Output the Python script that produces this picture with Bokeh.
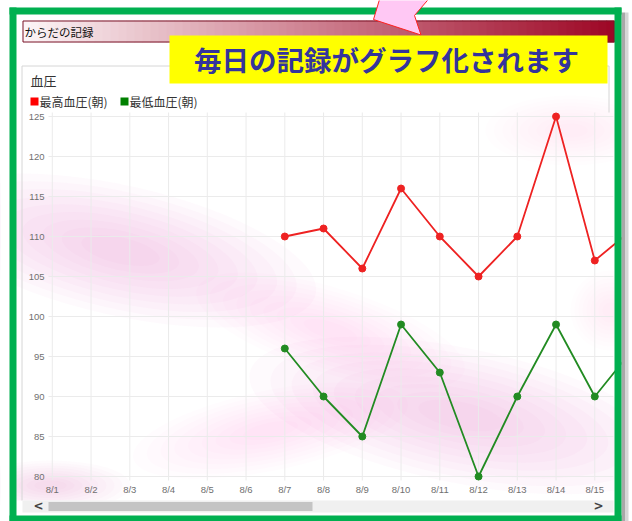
from bokeh.plotting import figure
from bokeh.models import Range1d, FixedTicker, LinearAxis
from bokeh.core.properties import value
from bokeh.embed import file_html
from bokeh.resources import INLINE

# ---------------- data ----------------
dates = ["8/1", "8/2", "8/3", "8/4", "8/5", "8/6", "8/7", "8/8",
         "8/9", "8/10", "8/11", "8/12", "8/13", "8/14", "8/15", "8/16"]
measured_dates = ["8/7", "8/8", "8/9", "8/10", "8/11", "8/12", "8/13", "8/14", "8/15", "8/16"]
high_bp = [110, 111, 106, 116, 110, 105, 110, 125, 107, 111]
low_bp = [96, 90, 85, 99, 93, 80, 90, 99, 90, 96]
y_ticks = [80, 85, 90, 95, 100, 105, 110, 115, 120, 125]
series_names = ["最高血圧(朝)", "最低血圧(朝)"]
chart_title = "血圧"
header_text = "からだの記録"
banner_text = "毎日の記録がグラフ化されます"

RED = "#ee2222"
GREEN = "#228b22"
JP = "Noto Sans CJK JP"

W, H = 632, 521
# page layer uses pixel coordinates (y downward); chart uses extra ranges
p = figure(width=W, height=H, output_backend="svg", toolbar_location=None,
           x_range=Range1d(0, W), y_range=Range1d(H, 0),
           x_axis_location=None, y_axis_location=None, min_border=0)
p.min_border_left = p.min_border_right = p.min_border_top = p.min_border_bottom = 0
p.outline_line_color = None
p.background_fill_color = "white"
p.border_fill_color = "white"
p.grid.visible = False

# chart scales: day index / mmHg
p.extra_x_ranges = {"days": Range1d(-1.3368, 14.973)}
p.extra_y_ranges = {"bp": Range1d(74.375, 139.5)}
X0, X1 = -0.098, 14.48      # chart area extent (day index)
Y0, Y1 = 79.5, 125.5        # chart area extent (mmHg)

# ---- soft pink background blobs (decoration, page pixels)
blobs = [  # X, Y, w, h, angle, strength
    (120, 250, 400, 130, -0.22, 1.0),
    (330, 330, 280, 85, -0.3, 0.6),
    (460, 415, 430, 135, -0.2, 1.0),
    (270, 430, 280, 80, 0.2, 0.55),
    (50, 485, 160, 50, 0.0, 0.8),
    (570, 130, 170, 70, 0.0, 0.4),
    (610, 310, 80, 80, 0.0, 0.4),
]
layers = [1.0, 0.9, 0.8, 0.7, 0.6, 0.5, 0.4, 0.3, 0.2]
for bx, by, bw, bh, ang, s in blobs:
    for k in layers:
        p.ellipse(x=bx, y=by, width=bw * k, height=bh * k, angle=ang,
                  width_units="screen", height_units="screen",
                  fill_color="#ee88cc", fill_alpha=0.04 * s, line_color=None)

# ---- grid lines (from tick lists)
xt = list(range(len(dates)))
p.segment(x0=xt, y0=[Y0] * len(xt), x1=xt, y1=[Y1] * len(xt),
          x_range_name="days", y_range_name="bp", line_color="#ebebeb", line_width=1)
p.segment(x0=[X0] * len(y_ticks), y0=y_ticks, x1=[X1] * len(y_ticks), y1=y_ticks,
          x_range_name="days", y_range_name="bp", line_color="#ebebeb", line_width=1)

# ---- axes placed at the chart edges
yaxis = LinearAxis(y_range_name="bp", fixed_location=48, ticker=FixedTicker(ticks=y_ticks),
                   bounds=(80, 125))
xaxis = LinearAxis(x_range_name="days", fixed_location=478, ticker=FixedTicker(ticks=xt),
                   bounds=(0, len(dates) - 1))
xaxis.major_label_overrides = {i: d for i, d in zip(xt, dates)}
for ax in (xaxis, yaxis):
    ax.axis_line_color = None
    ax.major_tick_line_color = None
    ax.minor_tick_line_color = None
    ax.major_tick_out = 0
    ax.major_tick_in = 0
    ax.minor_tick_out = 0
    ax.minor_tick_in = 0
    ax.major_label_text_font = "Liberation Sans"
    ax.major_label_text_font_size = "9.5px"
    ax.major_label_text_color = "#707070"
xaxis.major_label_standoff = 5
yaxis.major_label_standoff = 4
p.add_layout(yaxis, "left")
p.add_layout(xaxis, "below")

# ---- data series
mx = [dates.index(d) for d in measured_dates]
p.line(mx, high_bp, line_color=RED, line_width=1.8, x_range_name="days", y_range_name="bp")
p.scatter(mx, high_bp, size=7, fill_color=RED, line_color=RED, x_range_name="days", y_range_name="bp")
p.line(mx, low_bp, line_color=GREEN, line_width=1.8, x_range_name="days", y_range_name="bp")
p.scatter(mx, low_bp, size=7, fill_color=GREEN, line_color=GREEN, x_range_name="days", y_range_name="bp")


# ---------------- page decoration ----------------
def rect(l, t, r, b, fill=None, line=None, lw=1):
    p.quad(left=[l], right=[r], top=[t], bottom=[b], fill_color=fill,
           fill_alpha=1.0 if fill else 0.0, line_color=line, line_width=lw)


def label(X, Y, s, size, color, align="left", bold=False, font=JP):
    p.text(x=[X], y=[Y], text=[s], text_font=value(font), text_font_size=f"{size}px",
           text_color=color, text_align=align, text_baseline="middle",
           text_font_style="bold" if bold else "normal")


# white outside the frame
rect(0, 0, 9, H, fill="white")
rect(621, 0, W, H, fill="white")
rect(0, 0, W, 7, fill="white")
rect(16, 14, 614, 64, fill="white")
rect(16, 500, 614, 515, fill="white")

# panel border
p.segment(x0=[21.5, 21.5, 608.5], y0=[65.5, 65.5, 65.5], x1=[21.5, 608.5, 608.5],
          y1=[500, 65.5, 112], line_color="#d6d6d6", line_width=1)

# header bar with gradient
hl, hr, ht, hb = 22, 614, 20, 42
n = 74
c0 = (252, 244, 246)
c1 = (158, 8, 38)
ls, rs, cols = [], [], []
for i in range(n):
    t = i / (n - 1)
    c = tuple(int(round(c0[j] + (c1[j] - c0[j]) * t)) for j in range(3))
    ls.append(hl + (hr - hl) * i / n)
    rs.append(hl + (hr - hl) * (i + 1) / n + 0.6)
    cols.append("#%02x%02x%02x" % c)
p.quad(left=ls, right=rs, top=[ht] * n, bottom=[hb] * n, fill_color=cols, line_color=None)
rect(hl + 0.5, ht + 0.5, hr - 0.5, hb - 0.5, line="#7a1428")
label(24, 31, header_text, 11.5, "#111111")

# scrollbar
rect(22, 500, 613, 512, fill="#f0f0f0")
rect(48, 501.5, 312, 510.5, fill="#c4c4c4")
label(38, 505.5, "<", 12, "#444444", align="center", bold=True, font="DejaVu Sans")
label(598, 505.5, ">", 12, "#444444", align="center", bold=True, font="DejaVu Sans")

# green frame with shadow
rect(621, 12, 624.5, H, fill="#a8a8a8")
rect(624.5, 12, 628, H, fill="#d6d6d6")
G = "#00b050"
rect(9, 7, 16, H, fill=G)
rect(614, 7, 621, H, fill=G)
rect(9, 7, 621, 14, fill=G)
rect(9, 515, 621, H, fill=G)

# pink arrow
p.patch([380.5, 373, 420.5, 414, 432], [-6, 19, 34.5, 15, -6],
        fill_color="#ffc8f4", line_color="#ff2020", line_width=1)

# yellow banner
rect(169, 35, 607, 83, fill="#ffff00")
label(386, 58, banner_text, 27.5, "#34349c", align="center", bold=True)

# chart title + legend
label(30, 80, chart_title, 13, "#333333")
rect(30, 97, 38, 105, fill="#ff0000")
label(39, 101, series_names[0], 12, "#333333")
rect(120, 97, 128, 105, fill="#008000")
label(129, 101, series_names[1], 12, "#333333")

open("out.html", "w").write(file_html(p, INLINE))
